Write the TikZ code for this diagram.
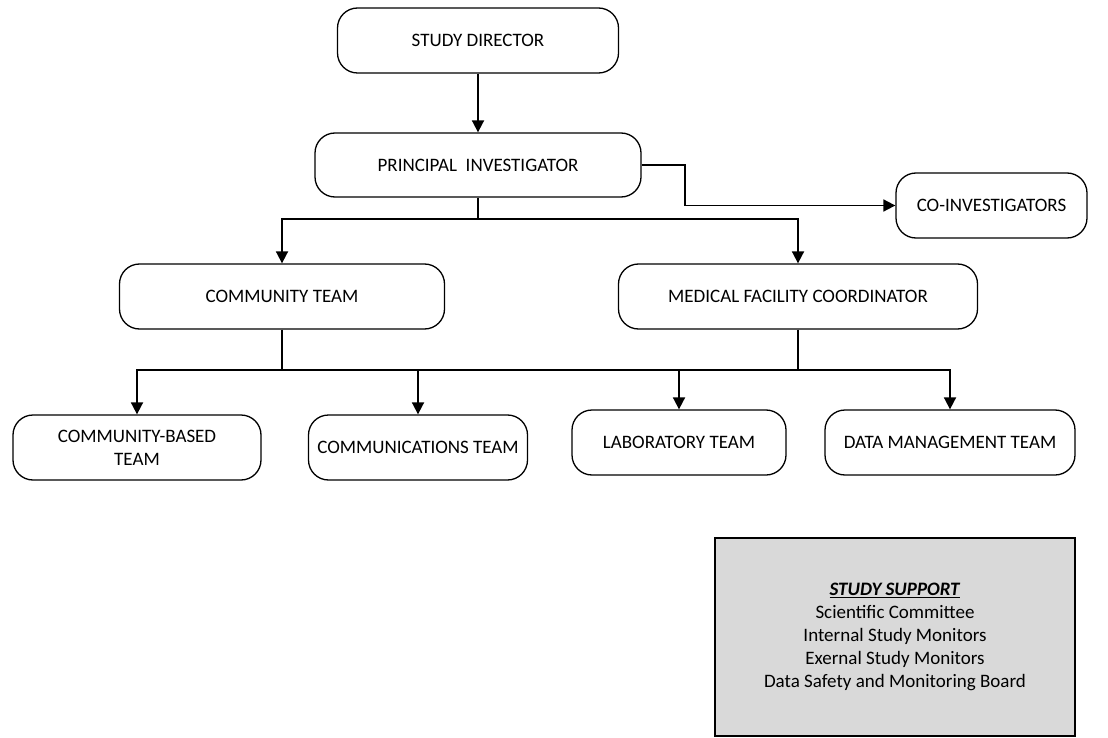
\documentclass[tikz,border=0pt]{standalone}
\usepackage{fontspec}
\setmainfont{Carlito}
\usetikzlibrary{arrows.meta}
\definecolor{supportgray}{HTML}{D9D9D9}

\begin{document}
\begin{tikzpicture}[x=1pt, y=-1pt, line width=1.3pt,
  role/.style={draw=black, rounded corners=20pt, inner sep=0pt, minimum height=65pt,
    align=center, font=\fontsize{19}{23}\selectfont},
  link/.style={line width=1.8pt},
  linkarrow/.style={link, -{Triangle[length=12pt,width=12pt]}},
  support/.style={draw=black, fill=supportgray, inner sep=0pt, minimum width=360pt,
    minimum height=198pt, align=center, font=\fontsize{19}{23}\selectfont}]
\useasboundingbox (0,0) rectangle (1108,738);
% top of the chart
\node[role, minimum width=281pt] (director) at (478,40.5) {STUDY DIRECTOR};
\node[role, minimum width=326pt, minimum height=64pt] (pi) at (478,165) {PRINCIPAL\ \ INVESTIGATOR};
\node[role, minimum width=191pt] (coinv) at (991.5,205.5) {CO-INVESTIGATORS};
% teams
\node[role, minimum width=325pt] (community) at (282,296.5) {COMMUNITY TEAM};
\node[role, minimum width=359pt] (medical) at (798,296.5) {MEDICAL FACILITY COORDINATOR};
% bottom row
\node[role, minimum width=248pt] (cbased) at (137,447.5) {COMMUNITY-BASED\\TEAM};
\node[role, minimum width=219pt] (comms) at (418,447.5) {COMMUNICATIONS TEAM};
\node[role, minimum width=214pt] (lab) at (679,442.5) {LABORATORY TEAM};
\node[role, minimum width=250pt] (datamgmt) at (950,442.5) {DATA MANAGEMENT TEAM};
% support box
\node[support] (studysupport) at (895,637) {\underline{\textbf{\textit{STUDY SUPPORT}}}\\
  Scientific Committee\\Internal Study Monitors\\Exernal Study Monitors\\
  Data Safety and Monitoring Board};
% connectors
\coordinate (split1) at (478,219);
\coordinate (split2) at (282,370);
\coordinate (split3) at (798,370);
\draw[linkarrow] (director) -- (pi);
\draw[linkarrow] (pi.east) -- ++(43,0) |- (coinv);
\draw[link] (pi) -- (split1);
\draw[linkarrow] (split1) -| (community);
\draw[linkarrow] (split1) -| (medical);
\draw[link] (community) -- (split2);
\draw[link] (medical) -- (split3);
\draw[link] (split2) -- (split3);
\draw[linkarrow] (split2) -| (cbased);
\draw[linkarrow] (split2) -| (comms);
\draw[linkarrow] (split3) -| (lab);
\draw[linkarrow] (split3) -| (datamgmt);
\end{tikzpicture}
\end{document}
